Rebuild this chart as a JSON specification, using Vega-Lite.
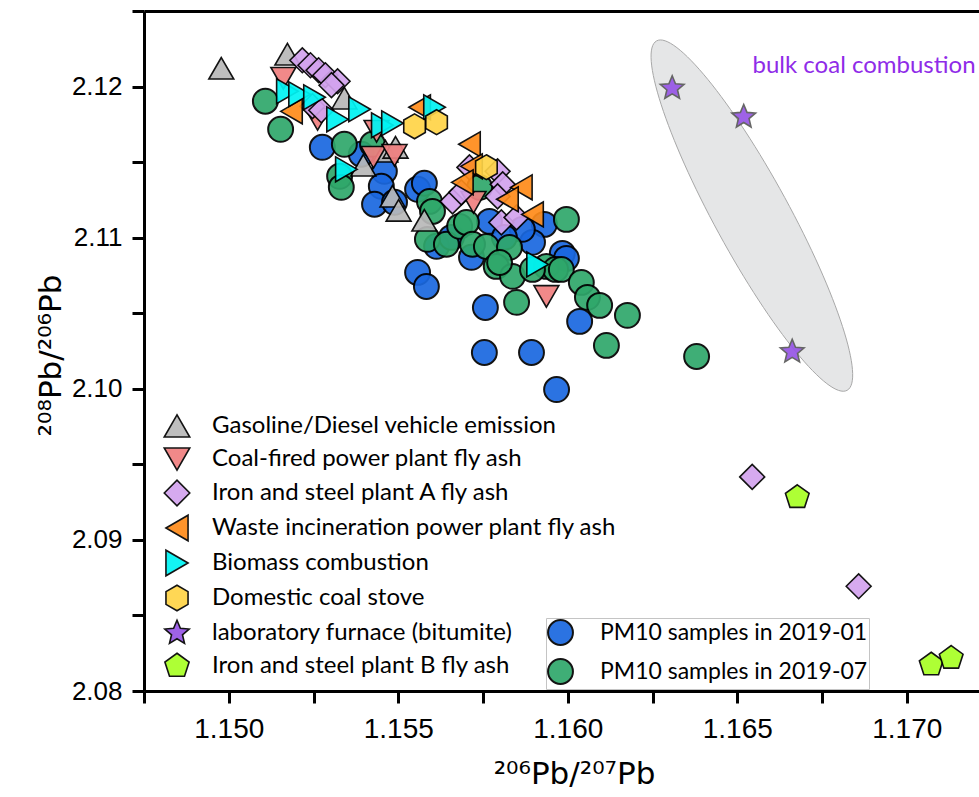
{
  "$schema": "https://vega.github.io/schema/vega-lite/v6.json",
  "width": 835,
  "height": 680,
  "autosize": {"type": "none"},
  "padding": {"left": 144, "top": 11, "right": 0, "bottom": 106},
  "background": "white",
  "config": {
    "view": {"stroke": null},
    "axis": {"grid": false, "domainColor": "black", "tickColor": "black", "domainWidth": 3, "tickWidth": 3, "labelColor": "black", "titleColor": "black"}
  },
  "datasets": {
    "ellipse": [{"x": 1.16543, "y": 2.11146}],
    "note": [{"x": 1.16545, "y": 2.12136, "label": "bulk coal combustion"}],
    "pm": [
      {"x": 1.15276, "y": 2.11598, "group": "PM10 samples in 2019-01"},
      {"x": 1.15391, "y": 2.11552, "group": "PM10 samples in 2019-01"},
      {"x": 1.15459, "y": 2.11439, "group": "PM10 samples in 2019-01"},
      {"x": 1.1545, "y": 2.1134, "group": "PM10 samples in 2019-01"},
      {"x": 1.1543, "y": 2.11221, "group": "PM10 samples in 2019-01"},
      {"x": 1.15489, "y": 2.11234, "group": "PM10 samples in 2019-01"},
      {"x": 1.15557, "y": 2.1132, "group": "PM10 samples in 2019-01"},
      {"x": 1.15577, "y": 2.1136, "group": "PM10 samples in 2019-01"},
      {"x": 1.15613, "y": 2.10943, "group": "PM10 samples in 2019-01"},
      {"x": 1.15716, "y": 2.1087, "group": "PM10 samples in 2019-01"},
      {"x": 1.15769, "y": 2.11108, "group": "PM10 samples in 2019-01"},
      {"x": 1.15557, "y": 2.1077, "group": "PM10 samples in 2019-01"},
      {"x": 1.15583, "y": 2.10677, "group": "PM10 samples in 2019-01"},
      {"x": 1.15757, "y": 2.10538, "group": "PM10 samples in 2019-01"},
      {"x": 1.15754, "y": 2.1024, "group": "PM10 samples in 2019-01"},
      {"x": 1.15893, "y": 2.1024, "group": "PM10 samples in 2019-01"},
      {"x": 1.15967, "y": 2.09995, "group": "PM10 samples in 2019-01"},
      {"x": 1.15931, "y": 2.11088, "group": "PM10 samples in 2019-01"},
      {"x": 1.15896, "y": 2.10969, "group": "PM10 samples in 2019-01"},
      {"x": 1.15866, "y": 2.11055, "group": "PM10 samples in 2019-01"},
      {"x": 1.15984, "y": 2.10896, "group": "PM10 samples in 2019-01"},
      {"x": 1.15996, "y": 2.10863, "group": "PM10 samples in 2019-01"},
      {"x": 1.16035, "y": 2.10446, "group": "PM10 samples in 2019-01"},
      {"x": 1.15657, "y": 2.11002, "group": "PM10 samples in 2019-01"},
      {"x": 1.15813, "y": 2.11002, "group": "PM10 samples in 2019-01"},
      {"x": 1.15108, "y": 2.11903, "group": "PM10 samples in 2019-07"},
      {"x": 1.15153, "y": 2.11717, "group": "PM10 samples in 2019-07"},
      {"x": 1.15341, "y": 2.11618, "group": "PM10 samples in 2019-07"},
      {"x": 1.15424, "y": 2.11618, "group": "PM10 samples in 2019-07"},
      {"x": 1.15327, "y": 2.11406, "group": "PM10 samples in 2019-07"},
      {"x": 1.15332, "y": 2.11333, "group": "PM10 samples in 2019-07"},
      {"x": 1.15592, "y": 2.1124, "group": "PM10 samples in 2019-07"},
      {"x": 1.15601, "y": 2.11174, "group": "PM10 samples in 2019-07"},
      {"x": 1.15586, "y": 2.10989, "group": "PM10 samples in 2019-07"},
      {"x": 1.15642, "y": 2.10956, "group": "PM10 samples in 2019-07"},
      {"x": 1.15681, "y": 2.11075, "group": "PM10 samples in 2019-07"},
      {"x": 1.15701, "y": 2.11101, "group": "PM10 samples in 2019-07"},
      {"x": 1.15719, "y": 2.10956, "group": "PM10 samples in 2019-07"},
      {"x": 1.1576, "y": 2.10942, "group": "PM10 samples in 2019-07"},
      {"x": 1.15828, "y": 2.10936, "group": "PM10 samples in 2019-07"},
      {"x": 1.15789, "y": 2.1081, "group": "PM10 samples in 2019-07"},
      {"x": 1.15837, "y": 2.10744, "group": "PM10 samples in 2019-07"},
      {"x": 1.15849, "y": 2.10572, "group": "PM10 samples in 2019-07"},
      {"x": 1.15937, "y": 2.1081, "group": "PM10 samples in 2019-07"},
      {"x": 1.15964, "y": 2.1079, "group": "PM10 samples in 2019-07"},
      {"x": 1.15981, "y": 2.1079, "group": "PM10 samples in 2019-07"},
      {"x": 1.15996, "y": 2.11121, "group": "PM10 samples in 2019-07"},
      {"x": 1.1604, "y": 2.10704, "group": "PM10 samples in 2019-07"},
      {"x": 1.16058, "y": 2.10605, "group": "PM10 samples in 2019-07"},
      {"x": 1.16094, "y": 2.10552, "group": "PM10 samples in 2019-07"},
      {"x": 1.16114, "y": 2.10287, "group": "PM10 samples in 2019-07"},
      {"x": 1.16176, "y": 2.10486, "group": "PM10 samples in 2019-07"},
      {"x": 1.1638, "y": 2.10214, "group": "PM10 samples in 2019-07"},
      {"x": 1.1574, "y": 2.11333, "group": "PM10 samples in 2019-07"},
      {"x": 1.15799, "y": 2.10836, "group": "PM10 samples in 2019-07"},
      {"x": 1.15896, "y": 2.1079, "group": "PM10 samples in 2019-07"}
    ],
    "src": [
      {"x": 1.14978, "y": 2.12121, "source": "Gasoline/Diesel vehicle emission"},
      {"x": 1.15173, "y": 2.12214, "source": "Gasoline/Diesel vehicle emission"},
      {"x": 1.15341, "y": 2.11923, "source": "Gasoline/Diesel vehicle emission"},
      {"x": 1.15397, "y": 2.11479, "source": "Gasoline/Diesel vehicle emission"},
      {"x": 1.15462, "y": 2.11572, "source": "Gasoline/Diesel vehicle emission"},
      {"x": 1.15492, "y": 2.11598, "source": "Gasoline/Diesel vehicle emission"},
      {"x": 1.15483, "y": 2.11274, "source": "Gasoline/Diesel vehicle emission"},
      {"x": 1.15501, "y": 2.11181, "source": "Gasoline/Diesel vehicle emission"},
      {"x": 1.15577, "y": 2.11115, "source": "Gasoline/Diesel vehicle emission"},
      {"x": 1.15161, "y": 2.12055, "source": "Coal-fired power plant fly ash"},
      {"x": 1.15262, "y": 2.11783, "source": "Coal-fired power plant fly ash"},
      {"x": 1.15436, "y": 2.11704, "source": "Coal-fired power plant fly ash"},
      {"x": 1.15427, "y": 2.11532, "source": "Coal-fired power plant fly ash"},
      {"x": 1.15489, "y": 2.11545, "source": "Coal-fired power plant fly ash"},
      {"x": 1.15722, "y": 2.11234, "source": "Coal-fired power plant fly ash"},
      {"x": 1.15937, "y": 2.10611, "source": "Coal-fired power plant fly ash"},
      {"x": 1.15217, "y": 2.12174, "source": "Iron and steel plant A fly ash"},
      {"x": 1.15241, "y": 2.12141, "source": "Iron and steel plant A fly ash"},
      {"x": 1.15265, "y": 2.12108, "source": "Iron and steel plant A fly ash"},
      {"x": 1.15285, "y": 2.12075, "source": "Iron and steel plant A fly ash"},
      {"x": 1.15321, "y": 2.12035, "source": "Iron and steel plant A fly ash"},
      {"x": 1.15303, "y": 2.12009, "source": "Iron and steel plant A fly ash"},
      {"x": 1.15247, "y": 2.1187, "source": "Iron and steel plant A fly ash"},
      {"x": 1.15273, "y": 2.11843, "source": "Iron and steel plant A fly ash"},
      {"x": 1.1571, "y": 2.11465, "source": "Iron and steel plant A fly ash"},
      {"x": 1.15793, "y": 2.11439, "source": "Iron and steel plant A fly ash"},
      {"x": 1.15808, "y": 2.11353, "source": "Iron and steel plant A fly ash"},
      {"x": 1.1566, "y": 2.1124, "source": "Iron and steel plant A fly ash"},
      {"x": 1.15686, "y": 2.113, "source": "Iron and steel plant A fly ash"},
      {"x": 1.15793, "y": 2.11273, "source": "Iron and steel plant A fly ash"},
      {"x": 1.15804, "y": 2.11101, "source": "Iron and steel plant A fly ash"},
      {"x": 1.15849, "y": 2.11134, "source": "Iron and steel plant A fly ash"},
      {"x": 1.16544, "y": 2.09417, "source": "Iron and steel plant A fly ash"},
      {"x": 1.16858, "y": 2.08693, "source": "Iron and steel plant A fly ash"},
      {"x": 1.15185, "y": 2.11836, "source": "Waste incineration power plant fly ash"},
      {"x": 1.15563, "y": 2.11863, "source": "Waste incineration power plant fly ash"},
      {"x": 1.1571, "y": 2.11618, "source": "Waste incineration power plant fly ash"},
      {"x": 1.15716, "y": 2.11472, "source": "Waste incineration power plant fly ash"},
      {"x": 1.15689, "y": 2.11366, "source": "Waste incineration power plant fly ash"},
      {"x": 1.15863, "y": 2.11333, "source": "Waste incineration power plant fly ash"},
      {"x": 1.15822, "y": 2.11254, "source": "Waste incineration power plant fly ash"},
      {"x": 1.15896, "y": 2.11154, "source": "Waste incineration power plant fly ash"},
      {"x": 1.15173, "y": 2.11969, "source": "Biomass combustion"},
      {"x": 1.15209, "y": 2.11949, "source": "Biomass combustion"},
      {"x": 1.15253, "y": 2.11929, "source": "Biomass combustion"},
      {"x": 1.15321, "y": 2.11783, "source": "Biomass combustion"},
      {"x": 1.15386, "y": 2.1185, "source": "Biomass combustion"},
      {"x": 1.15453, "y": 2.11744, "source": "Biomass combustion"},
      {"x": 1.15483, "y": 2.11757, "source": "Biomass combustion"},
      {"x": 1.15607, "y": 2.11863, "source": "Biomass combustion"},
      {"x": 1.15347, "y": 2.11452, "source": "Biomass combustion"},
      {"x": 1.15911, "y": 2.10823, "source": "Biomass combustion"},
      {"x": 1.15548, "y": 2.11737, "source": "Domestic coal stove"},
      {"x": 1.15613, "y": 2.11764, "source": "Domestic coal stove"},
      {"x": 1.1576, "y": 2.11466, "source": "Domestic coal stove"},
      {"x": 1.16308, "y": 2.11989, "source": "laboratory furnace (bitumite)"},
      {"x": 1.16519, "y": 2.11799, "source": "laboratory furnace (bitumite)"},
      {"x": 1.16662, "y": 2.10245, "source": "laboratory furnace (bitumite)"},
      {"x": 1.16677, "y": 2.09282, "source": "Iron and steel plant B fly ash"},
      {"x": 1.17072, "y": 2.08174, "source": "Iron and steel plant B fly ash"},
      {"x": 1.17131, "y": 2.08218, "source": "Iron and steel plant B fly ash"}
    ]
  },
  "layer": [
    {
      "data": {"name": "ellipse"},
      "mark": {"type": "point", "shape": "M0.4787,0.878C0.3873,0.9278,0.099,0.5751,-0.1654,0.0902C-0.4298,-0.3947,-0.5701,-0.8282,-0.4787,-0.878C-0.3873,-0.9278,-0.099,-0.5751,0.1654,-0.0902C0.4298,0.3947,0.5701,0.8282,0.4787,0.878Z", "size": 158404, "filled": true, "fill": "#e5e6e7", "stroke": "#a8a8a8", "strokeWidth": 1, "opacity": 1},
      "encoding": {
        "x": {
          "field": "x", "type": "quantitative",
          "scale": {"domain": [1.1475, 1.17213], "zero": false, "nice": false},
          "axis": {
            "orient": "bottom",
            "values": [1.1475, 1.15, 1.1525, 1.155, 1.1575, 1.16, 1.1625, 1.165, 1.1675, 1.17],
            "labelExpr": "abs(datum.value*200 - round(datum.value*200)) < 0.1 ? format(datum.value, '.3f') : ''",
            "tickSize": 12, "labelPadding": 12,
            "labelFont": "Liberation Sans", "labelFontSize": 28,
            "labelFlush": false, "labelOverlap": false,
            "title": "²⁰⁶Pb/²⁰⁷Pb",
            "titleFont": "DejaVu Sans", "titleFontSize": 31, "titleFontWeight": "normal",
            "titleX": 430, "titleY": 92, "titleBaseline": "alphabetic", "titleAlign": "center",
            "encode": {"ticks": {"update": {"y2": {"signal": "abs(datum.value*200 - round(datum.value*200)) < 0.1 ? 12 : 6"}}}}
          }
        },
        "y": {
          "field": "y", "type": "quantitative",
          "scale": {"domain": [2.08, 2.125], "zero": false, "nice": false},
          "axis": {
            "orient": "left",
            "values": [2.08, 2.085, 2.09, 2.095, 2.1, 2.105, 2.11, 2.115, 2.12, 2.125],
            "labelExpr": "abs(datum.value*100 - round(datum.value*100)) < 0.1 ? format(datum.value, '.2f') : ''",
            "tickSize": 12, "labelPadding": 10,
            "labelFont": "Liberation Sans", "labelFontSize": 26,
            "labelFlush": false, "labelOverlap": false,
            "title": "²⁰⁸Pb/²⁰⁶Pb",
            "titleFont": "DejaVu Sans", "titleFontSize": 31, "titleFontWeight": "normal",
            "titleX": -84, "titleY": 344, "titleAngle": -90, "titleBaseline": "alphabetic", "titleAlign": "center",
            "encode": {"ticks": {"update": {"x2": {"signal": "abs(datum.value*100 - round(datum.value*100)) < 0.1 ? -12 : -6"}}}}
          }
        }
      }
    },
    {
      "data": {"name": "note"},
      "mark": {"type": "text", "align": "left", "baseline": "middle", "font": "Lato", "fontSize": 24, "color": "#8f2be8"},
      "encoding": {
        "x": {"field": "x", "type": "quantitative", "axis": {"orient": "top", "ticks": false, "labels": false, "domain": true, "title": null, "grid": false, "domainWidth": 3, "domainColor": "black"}},
        "y": {"field": "y", "type": "quantitative", "axis": null},
        "text": {"field": "label"}
      }
    },
    {
      "data": {"name": "pm"},
      "mark": {"type": "point", "shape": "circle", "filled": true, "size": 620, "stroke": "black", "strokeWidth": 2, "opacity": 0.92},
      "encoding": {
        "x": {"field": "x", "type": "quantitative", "axis": null},
        "y": {"field": "y", "type": "quantitative", "axis": null},
        "color": {
          "field": "group", "type": "nominal",
          "scale": {"domain": ["PM10 samples in 2019-01", "PM10 samples in 2019-07"], "range": ["#1a68e0", "#2fa86b"]},
          "legend": {
            "title": null, "orient": "none", "legendX": 402, "legendY": 607,
            "padding": 1, "strokeColor": "#c4c4c4",
            "symbolType": "circle", "symbolSize": 620, "symbolStrokeWidth": 2, "symbolStrokeColor": "black",
            "labelFont": "Lato", "labelFontSize": 23, "labelColor": "black", "labelOffset": 26, "rowPadding": 6, "labelLimit": 400,
            "encode": {
              "legend": {"update": {"strokeWidth": {"value": 2.5}}},
              "symbols": {"update": {"stroke": {"value": "black"}, "strokeWidth": {"value": 2}, "opacity": {"value": 1}}}
            }
          }
        }
      }
    },
    {
      "data": {"name": "src"},
      "mark": {"type": "point", "filled": true, "size": 620, "strokeWidth": 1.6, "opacity": 0.92},
      "encoding": {
        "x": {"field": "x", "type": "quantitative", "axis": null},
        "y": {"field": "y", "type": "quantitative", "axis": null},
        "stroke": {"condition": {"test": "datum.source === 'laboratory furnace (bitumite)'", "value": "#5a5a5a"}, "value": "black"},
        "color": {
          "field": "source", "type": "nominal",
          "scale": {
            "domain": ["Gasoline/Diesel vehicle emission", "Coal-fired power plant fly ash", "Iron and steel plant A fly ash", "Waste incineration power plant fly ash", "Biomass combustion", "Domestic coal stove", "laboratory furnace (bitumite)", "Iron and steel plant B fly ash"],
            "range": ["#b9b9b9", "#f08080", "#d3a3ee", "#ff8c1a", "#00f4f4", "#ffd447", "#9655e6", "#a8ff24"]
          },
          "legend": {
            "title": null, "orient": "none", "legendX": 19, "legendY": 401,
            "symbolSize": 650, "symbolStrokeWidth": 1.6, "symbolStrokeColor": "black",
            "labelFont": "Lato", "labelFontSize": 24, "labelColor": "black", "labelOffset": 21, "rowPadding": 3, "labelLimit": 500,
            "encode": {"symbols": {"update": {"stroke": {"value": "black"}, "strokeWidth": {"value": 1.6}, "opacity": {"value": 1}}}}
          }
        },
        "shape": {
          "field": "source", "type": "nominal",
          "scale": {
            "domain": ["Gasoline/Diesel vehicle emission", "Coal-fired power plant fly ash", "Iron and steel plant A fly ash", "Waste incineration power plant fly ash", "Biomass combustion", "Domestic coal stove", "laboratory furnace (bitumite)", "Iron and steel plant B fly ash"],
            "range": ["triangle-up", "triangle-down", "diamond", "triangle-left", "triangle-right", "M0,-1L0.866,-0.5L0.866,0.5L0,1L-0.866,0.5L-0.866,-0.5Z", "M0,-1L0.2645,-0.364L0.951,-0.309L0.428,0.139L0.588,0.809L0,0.45L-0.588,0.809L-0.428,0.139L-0.951,-0.309L-0.2645,-0.364Z", "M0,-1L0.951,-0.309L0.588,0.809L-0.588,0.809L-0.951,-0.309Z"]
          },
          "legend": {
            "title": null, "orient": "none", "legendX": 19, "legendY": 401,
            "symbolSize": 650, "labelFont": "Lato", "labelFontSize": 24, "labelOffset": 21, "rowPadding": 3, "labelLimit": 500
          }
        }
      }
    }
  ],
  "resolve": {"scale": {"color": "independent", "shape": "independent"}, "axis": {"x": "independent", "y": "independent"}}
}
